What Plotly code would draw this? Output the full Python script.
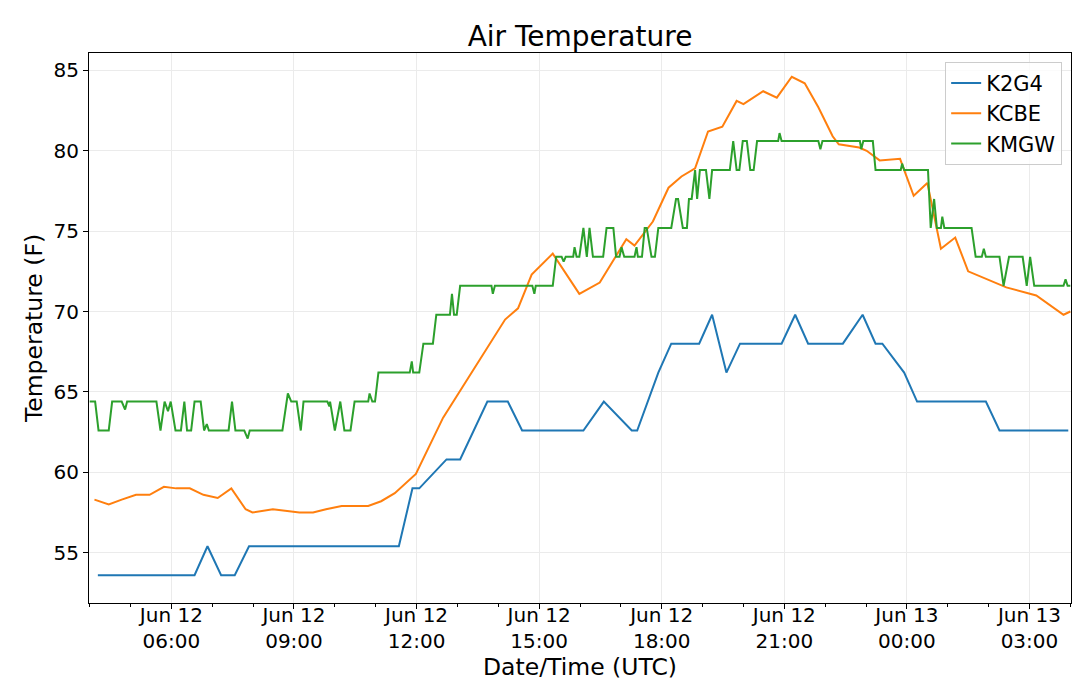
import plotly.graph_objects as go

# K2G4 observations
k2g4_time = [
    "2018-06-12 04:12", "2018-06-12 06:34", "2018-06-12 06:53", "2018-06-12 07:13", "2018-06-12 07:33",
    "2018-06-12 07:54", "2018-06-12 11:34", "2018-06-12 11:54", "2018-06-12 12:04", "2018-06-12 12:44",
    "2018-06-12 13:04", "2018-06-12 13:44", "2018-06-12 14:14", "2018-06-12 14:35", "2018-06-12 16:05",
    "2018-06-12 16:35", "2018-06-12 17:16", "2018-06-12 17:24", "2018-06-12 17:55", "2018-06-12 18:14",
    "2018-06-12 18:55", "2018-06-12 19:14", "2018-06-12 19:35", "2018-06-12 19:55", "2018-06-12 20:56",
    "2018-06-12 21:16", "2018-06-12 21:35", "2018-06-12 22:26", "2018-06-12 22:55", "2018-06-12 23:14",
    "2018-06-12 23:24", "2018-06-12 23:56", "2018-06-13 00:15", "2018-06-13 01:56", "2018-06-13 02:16",
    "2018-06-13 03:57",
]
k2g4_temp = [
    53.6, 53.6, 55.4, 53.6, 53.6,
    55.4, 55.4, 59.0, 59.0, 60.8,
    60.8, 64.4, 64.4, 62.6, 62.6,
    64.4, 62.6, 62.6, 66.2, 68.0,
    68.0, 69.8, 66.2, 68.0, 68.0,
    69.8, 68.0, 68.0, 69.8, 68.0,
    68.0, 66.2, 64.4, 64.4, 62.6,
    62.6,
]

# KCBE observations
kcbe_time = [
    "2018-06-12 04:07", "2018-06-12 04:28", "2018-06-12 04:47", "2018-06-12 05:08", "2018-06-12 05:28",
    "2018-06-12 05:49", "2018-06-12 06:07", "2018-06-12 06:27", "2018-06-12 06:47", "2018-06-12 07:08",
    "2018-06-12 07:28", "2018-06-12 07:49", "2018-06-12 07:59", "2018-06-12 08:29", "2018-06-12 09:08",
    "2018-06-12 09:28", "2018-06-12 09:47", "2018-06-12 10:10", "2018-06-12 10:49", "2018-06-12 11:08",
    "2018-06-12 11:28", "2018-06-12 11:59", "2018-06-12 12:39", "2018-06-12 14:10", "2018-06-12 14:29",
    "2018-06-12 14:49", "2018-06-12 15:20", "2018-06-12 15:59", "2018-06-12 16:29", "2018-06-12 17:08",
    "2018-06-12 17:20", "2018-06-12 17:47", "2018-06-12 18:10", "2018-06-12 18:29", "2018-06-12 18:49",
    "2018-06-12 19:08", "2018-06-12 19:29", "2018-06-12 19:50", "2018-06-12 20:00", "2018-06-12 20:29",
    "2018-06-12 20:49", "2018-06-12 21:11", "2018-06-12 21:30", "2018-06-12 21:50", "2018-06-12 22:11",
    "2018-06-12 22:20", "2018-06-12 22:50", "2018-06-12 23:01", "2018-06-12 23:20", "2018-06-12 23:50",
    "2018-06-13 00:10", "2018-06-13 00:30", "2018-06-13 00:50", "2018-06-13 01:11", "2018-06-13 01:30",
    "2018-06-13 02:26", "2018-06-13 03:10", "2018-06-13 03:50", "2018-06-13 04:00",
]
kcbe_temp = [
    58.3, 58.0, 58.3, 58.6, 58.6,
    59.1, 59.0, 59.0, 58.6, 58.4,
    59.0, 57.7, 57.5, 57.7, 57.5,
    57.5, 57.7, 57.9, 57.9, 58.2,
    58.7, 59.9, 63.4, 69.5, 70.2,
    72.3, 73.6, 71.1, 71.8, 74.5,
    74.1, 75.6, 77.7, 78.4, 78.9,
    81.2, 81.5, 83.1, 82.9, 83.7,
    83.3, 84.6, 84.2, 82.7, 80.9,
    80.4, 80.2, 80.0, 79.4, 79.5,
    77.2, 78.0, 73.9, 74.6, 72.5,
    71.5, 71.0, 69.8, 70.0,
]

# KMGW observations
kmgw_time = [
    "2018-06-12 04:00", "2018-06-12 04:08", "2018-06-12 04:13", "2018-06-12 04:28", "2018-06-12 04:33",
    "2018-06-12 04:47", "2018-06-12 04:52", "2018-06-12 04:55", "2018-06-12 05:38", "2018-06-12 05:44",
    "2018-06-12 05:50", "2018-06-12 05:55", "2018-06-12 05:59", "2018-06-12 06:06", "2018-06-12 06:14",
    "2018-06-12 06:19", "2018-06-12 06:23", "2018-06-12 06:29", "2018-06-12 06:34", "2018-06-12 06:43",
    "2018-06-12 06:48", "2018-06-12 06:52", "2018-06-12 06:55", "2018-06-12 07:24", "2018-06-12 07:29",
    "2018-06-12 07:34", "2018-06-12 07:47", "2018-06-12 07:52", "2018-06-12 07:55", "2018-06-12 08:43",
    "2018-06-12 08:51", "2018-06-12 08:56", "2018-06-12 09:04", "2018-06-12 09:10", "2018-06-12 09:14",
    "2018-06-12 09:49", "2018-06-12 09:52", "2018-06-12 09:53", "2018-06-12 10:00", "2018-06-12 10:08",
    "2018-06-12 10:14", "2018-06-12 10:23", "2018-06-12 10:29", "2018-06-12 10:49", "2018-06-12 10:51",
    "2018-06-12 10:55", "2018-06-12 10:59", "2018-06-12 11:04", "2018-06-12 11:50", "2018-06-12 11:53",
    "2018-06-12 11:55", "2018-06-12 12:04", "2018-06-12 12:10", "2018-06-12 12:24", "2018-06-12 12:29",
    "2018-06-12 12:49", "2018-06-12 12:52", "2018-06-12 12:55", "2018-06-12 12:59", "2018-06-12 13:04",
    "2018-06-12 13:50", "2018-06-12 13:52", "2018-06-12 13:55", "2018-06-12 14:50", "2018-06-12 14:53",
    "2018-06-12 14:55", "2018-06-12 15:20", "2018-06-12 15:25", "2018-06-12 15:33", "2018-06-12 15:36",
    "2018-06-12 15:39", "2018-06-12 15:50", "2018-06-12 15:52", "2018-06-12 15:55", "2018-06-12 15:59",
    "2018-06-12 16:05", "2018-06-12 16:10", "2018-06-12 16:14", "2018-06-12 16:19", "2018-06-12 16:34",
    "2018-06-12 16:39", "2018-06-12 16:49", "2018-06-12 16:53", "2018-06-12 16:58", "2018-06-12 17:01",
    "2018-06-12 17:05", "2018-06-12 17:20", "2018-06-12 17:23", "2018-06-12 17:25", "2018-06-12 17:31",
    "2018-06-12 17:35", "2018-06-12 17:38", "2018-06-12 17:45", "2018-06-12 17:50", "2018-06-12 17:55",
    "2018-06-12 18:14", "2018-06-12 18:21", "2018-06-12 18:24", "2018-06-12 18:31", "2018-06-12 18:37",
    "2018-06-12 18:40", "2018-06-12 18:44", "2018-06-12 18:49", "2018-06-12 18:52", "2018-06-12 18:56",
    "2018-06-12 19:05", "2018-06-12 19:10", "2018-06-12 19:14", "2018-06-12 19:40", "2018-06-12 19:45",
    "2018-06-12 19:50", "2018-06-12 19:54", "2018-06-12 19:59", "2018-06-12 20:05", "2018-06-12 20:10",
    "2018-06-12 20:15", "2018-06-12 20:20", "2018-06-12 20:51", "2018-06-12 20:53", "2018-06-12 20:56",
    "2018-06-12 21:50", "2018-06-12 21:53", "2018-06-12 21:56", "2018-06-12 22:51", "2018-06-12 22:53",
    "2018-06-12 22:56", "2018-06-12 23:10", "2018-06-12 23:14", "2018-06-12 23:51", "2018-06-12 23:53",
    "2018-06-12 23:56", "2018-06-13 00:31", "2018-06-13 00:35", "2018-06-13 00:40", "2018-06-13 00:44",
    "2018-06-13 00:50", "2018-06-13 00:52", "2018-06-13 00:55", "2018-06-13 01:35", "2018-06-13 01:41",
    "2018-06-13 01:50", "2018-06-13 01:53", "2018-06-13 01:56", "2018-06-13 02:16", "2018-06-13 02:22",
    "2018-06-13 02:30", "2018-06-13 02:50", "2018-06-13 02:56", "2018-06-13 03:01", "2018-06-13 03:07",
    "2018-06-13 03:50", "2018-06-13 03:53", "2018-06-13 03:56", "2018-06-13 04:00",
]
kmgw_temp = [
    64.4, 64.4, 62.6, 62.6, 64.4,
    64.4, 63.9, 64.4, 64.4, 62.6,
    64.4, 63.8, 64.4, 62.6, 62.6,
    64.4, 62.6, 62.6, 64.4, 64.4,
    62.6, 63.0, 62.6, 62.6, 64.4,
    62.6, 62.6, 62.1, 62.6, 62.6,
    64.9, 64.4, 64.4, 62.6, 64.4,
    64.4, 64.1, 64.4, 62.6, 64.4,
    62.6, 62.6, 64.4, 64.4, 64.9,
    64.4, 64.4, 66.2, 66.2, 66.9,
    66.2, 66.2, 68.0, 68.0, 69.8,
    69.8, 71.1, 69.8, 69.8, 71.6,
    71.6, 71.1, 71.6, 71.6, 71.1,
    71.6, 71.6, 73.4, 73.4, 73.1,
    73.4, 73.4, 74.0, 73.4, 73.4,
    75.2, 73.4, 75.2, 73.4, 73.4,
    75.2, 75.2, 73.4, 73.4, 74.0,
    73.4, 73.4, 74.0, 73.4, 73.4,
    75.2, 75.2, 73.4, 73.4, 75.2,
    75.2, 77.0, 77.0, 75.2, 75.2,
    77.0, 77.0, 78.8, 77.0, 78.8,
    78.8, 77.0, 78.8, 78.8, 80.6,
    78.8, 78.8, 80.6, 80.6, 78.8,
    78.8, 80.6, 80.6, 81.1, 80.6,
    80.6, 80.1, 80.6, 80.6, 80.1,
    80.6, 80.6, 78.8, 78.8, 79.2,
    78.8, 78.8, 75.2, 77.0, 75.2,
    75.2, 75.9, 75.2, 75.2, 73.4,
    73.4, 73.9, 73.4, 73.4, 71.6,
    73.4, 73.4, 71.6, 73.4, 71.6,
    71.6, 72.0, 71.6, 71.6,
]

tick_vals = ["2018-06-12 06:00", "2018-06-12 09:00", "2018-06-12 12:00", "2018-06-12 15:00",
             "2018-06-12 18:00", "2018-06-12 21:00", "2018-06-13 00:00", "2018-06-13 03:00"]
tick_text = ["Jun 12<br>06:00", "Jun 12<br>09:00", "Jun 12<br>12:00", "Jun 12<br>15:00",
             "Jun 12<br>18:00", "Jun 12<br>21:00", "Jun 13<br>00:00", "Jun 13<br>03:00"]
y_ticks = [55, 60, 65, 70, 75, 80, 85]

fig = go.Figure()
fig.add_trace(go.Scatter(x=k2g4_time, y=k2g4_temp, mode='lines', name='K2G4',
                         line=dict(color='#1f77b4', width=2)))
fig.add_trace(go.Scatter(x=kcbe_time, y=kcbe_temp, mode='lines', name='KCBE',
                         line=dict(color='#ff7f0e', width=2)))
fig.add_trace(go.Scatter(x=kmgw_time, y=kmgw_temp, mode='lines', name='KMGW',
                         line=dict(color='#2ca02c', width=2)))

# the page body adds an 8px offset, so margins are shifted to compensate
fig.update_layout(
    width=1080, height=697,
    margin=dict(l=81, r=17, t=45, b=102, autoexpand=False),
    paper_bgcolor='white', plot_bgcolor='white',
    font=dict(family='DejaVu Sans', size=20, color='black'),
    title=dict(text='Air Temperature', xref='paper', x=0.5, xanchor='center',
               y=0.959, yanchor='middle', font=dict(size=28)),
    legend=dict(x=0.991, y=0.984, xanchor='right', yanchor='top',
                bgcolor='rgba(255,255,255,0.8)', bordercolor='#cccccc', borderwidth=1,
                font=dict(size=21), tracegroupgap=0),
    showlegend=True,
)
fig.update_xaxes(
    type='date', automargin=False,
    range=['2018-06-12 03:59', '2018-06-13 04:01'],
    tickvals=tick_vals, ticktext=tick_text,
    ticks='outside', ticklen=5, tickcolor='black', ticklabelstandoff=-11,
    minor=dict(dtick=3600000, tick0='2018-06-12 00:00', ticks='outside', ticklen=3,
               tickcolor='black', showgrid=False),
    showgrid=True, gridcolor='#ebebeb', gridwidth=1,
    showline=True, linecolor='black', linewidth=1, mirror=True,
    zeroline=False,
    title=dict(text='Date/Time (UTC)', font=dict(size=23.5), standoff=2),
)
fig.update_yaxes(
    automargin=False,
    range=[51.87, 86.08],
    tickvals=y_ticks,
    ticks='outside', ticklen=5, tickcolor='black',
    showgrid=True, gridcolor='#ebebeb', gridwidth=1,
    showline=True, linecolor='black', linewidth=1, mirror=True,
    zeroline=False,
    title=dict(text='Temperature (F)', font=dict(size=23.5), standoff=4),
)

fig.write_html("out.html")
